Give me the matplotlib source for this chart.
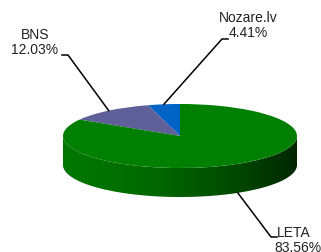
import numpy as np
import matplotlib
matplotlib.use("Agg")
import matplotlib.pyplot as plt
from matplotlib.transforms import Affine2D
from matplotlib.patches import Polygon

plt.rcParams['font.family'] = ['Liberation Sans', 'DejaVu Sans']

# data (counterclockwise from 12 o'clock)
labels = ['Nozare.lv', 'BNS', 'LETA']
shares = [4.41, 12.03, 83.56]
colors = ['#0063c6', '#5f5f99', '#007f00']

W, H = 321, 252
cx, cy = 180, H - 136   # centre of the top face
a, b = 117, 32          # ellipse semi axes
depth = 29


def ell(t, dy=0):
    t = np.radians(t)
    return cx + a * np.cos(t), cy + b * np.sin(t) - dy


fig = plt.figure(figsize=(W / 100, H / 100), dpi=100)
ax = fig.add_axes([0, 0, 1, 1])

# side of the cylinder (front half belongs to the big slice), shaded left to right
ts = np.linspace(180, 360, 200)
top = np.column_stack(ell(ts))
bot = np.column_stack(ell(ts[::-1], depth))
side = Polygon(np.vstack([top, bot]), closed=True, facecolor='none', edgecolor='none')
ax.add_patch(side)
u = np.linspace(-1, 1, 300)
f = 0.92 - 0.62 * ((u + 1) / 2) ** 1.8
grad = np.zeros((2, u.size, 3))
grad[:, :, 1] = 0.5 * f
img = ax.imshow(grad, extent=[cx - a, cx + a, cy - b - depth, cy], origin='lower',
                aspect='auto', interpolation='bilinear', zorder=1)
img.set_clip_path(side)

# top face
wedges, _ = ax.pie(shares, startangle=90, counterclock=True, colors=colors,
                   wedgeprops=dict(linewidth=0))
squash = Affine2D().scale(a, b).translate(cx, cy) + ax.transData
for w in wedges:
    w.set_transform(squash)
    w.set_zorder(2)

# leader lines and labels
starts = np.cumsum([0] + shares[:-1]) / 100 * 360 + 90
mids = starts + np.array(shares) / 100 * 180
label_pos = {
    'Nozare.lv': dict(knee=(222, 39), stub=(228, 39), text=(248, 18), ha='center'),
    'BNS': dict(knee=(68, 55), stub=(62, 55), text=(35, 35), ha='center'),
    'LETA': dict(knee=(271, 237), stub=(277, 237), text=(277, 233), ha='left'),
}
for name, share, m in zip(labels, shares, mids):
    front = np.sin(np.radians(m)) < 0
    px, py = ell(m, depth if front else 0)
    p = label_pos[name]
    kx, ky = p['knee']
    sx, sy = p['stub']
    ax.plot([px, kx, sx], [py, H - ky, H - sy], color='black', lw=1.1, zorder=3)
    tx, ty = p['text']
    ax.text(tx, H - ty, name, ha=p['ha'], va='center', fontsize=10, color='#222222')
    ax.text(tx if p['ha'] == 'center' else tx - 3, H - ty - 15, f'{share:.2f}%',
            ha=p['ha'], va='center', fontsize=10, color='#222222')

ax.set_aspect('auto')
ax.set_xlim(0, W)
ax.set_ylim(0, H)
ax.axis('off')
fig.savefig('out.png', dpi=100)
